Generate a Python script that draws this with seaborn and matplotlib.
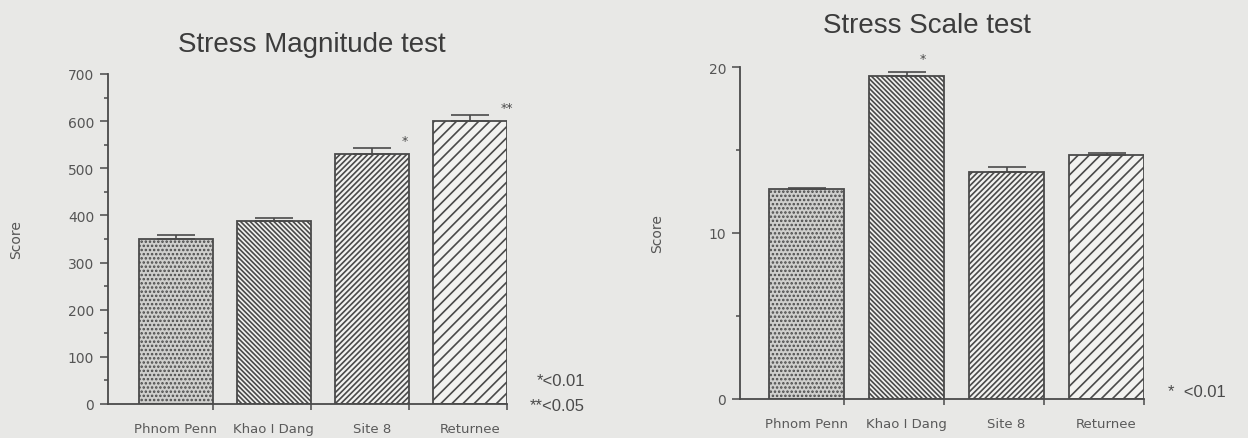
import numpy as np
import seaborn as sns
import matplotlib.pyplot as plt
from matplotlib.ticker import MultipleLocator, FixedLocator

# ==================================
# Data
# ==================================

sites = ["Phnom Penn", "Khao I Dang", "Site 8", "Returnee"]

magnitude = [351, 388, 530, 600]
magnitude_err = [8, 7, 14, 14]
magnitude_marks = ["", "", "*", "**"]

scale = [12.65, 19.45, 13.65, 14.7]
scale_err = [0.08, 0.25, 0.35, 0.1]
scale_marks = ["", "*", "", ""]

# ==================================
# Style
# ==================================

sns.set_style("ticks")
plt.rcParams["font.family"] = ["DejaVu Sans"]
plt.rcParams["hatch.linewidth"] = 1.2

paper = "#e8e8e6"
ink = "#4a4a4a"
hatches = ["....", "\\\\\\\\\\\\\\", "//////", "///"]
fills = ["#cfcfcd", "#f2f2f0", "#f2f2f0", "#f2f2f0"]

W, H = 1248, 439
fig = plt.figure(figsize=(W / 100, H / 100), dpi=100, facecolor=paper)


def box(x0, y0, x1, y1):
    # pixel box -> figure fraction [left, bottom, width, height]
    return [x0 / W, 1 - y1 / H, (x1 - x0) / W, (y1 - y0) / H]


def panel(ax, values, errs, marks, mark_dx, mark_dy, ymax, major, minor,
          xleft, title, title_xy):
    sns.barplot(x=sites, y=values, ax=ax, width=0.75, color="white",
                edgecolor=ink, linewidth=1.3, zorder=2)
    for patch, h, f in zip(ax.patches, hatches, fills):
        patch.set_hatch(h)
        patch.set_facecolor(f)

    ax.errorbar(np.arange(4), values, yerr=[np.zeros(4), errs], fmt="none",
                ecolor=ink, elinewidth=1.2, capsize=14, capthick=1.2, zorder=3)

    for i, m in enumerate(marks):
        if m:
            ax.text(i + mark_dx[i], values[i] + errs[i] + mark_dy, m,
                    ha="center", va="center", fontsize=9, color=ink,
                    clip_on=False)

    ax.set_facecolor("none")
    ax.set_xlim(xleft, 3.375)
    ax.set_ylim(0, ymax)
    ax.yaxis.set_major_locator(MultipleLocator(major))
    ax.yaxis.set_minor_locator(MultipleLocator(minor))
    ax.xaxis.set_minor_locator(FixedLocator(np.arange(4) + 0.375))
    ax.tick_params(axis="x", which="major", length=0, pad=13,
                   labelsize=9.5, labelcolor="#5a5a5a")
    ax.tick_params(axis="x", which="minor", length=4, width=1.1, color=ink)
    ax.tick_params(axis="y", which="major", length=6, width=1.1, color=ink,
                   labelsize=10, labelcolor="#555555", pad=4)
    ax.tick_params(axis="y", which="minor", length=3, width=1.1, color=ink)

    sns.despine(ax=ax)
    for s in ["left", "bottom"]:
        ax.spines[s].set_color(ink)
        ax.spines[s].set_linewidth(1.3)

    ax.set_xlabel("")
    ax.set_ylabel("Score", fontsize=10, color="#555555", labelpad=32)

    fig.text(title_xy[0] / W, 1 - title_xy[1] / H, title, ha="center",
             va="baseline", fontsize=20, color="#3c3c3c",
             family="Liberation Sans")


# ==================================
# Stress Magnitude test
# ==================================

ax1 = fig.add_axes(box(108, 75, 507, 405))
panel(ax1, magnitude, magnitude_err, magnitude_marks,
      [0, 0, 0.33, 0.37], 14, 700, 100, 50, -0.69,
      "Stress Magnitude test", (312, 52))

fig.text(537 / W, 1 - 386 / H, "*<0.01", fontsize=12, color=ink,
         family="Liberation Sans")
fig.text(530 / W, 1 - 411 / H, "**<0.05", fontsize=12, color=ink,
         family="Liberation Sans")

# ==================================
# Stress Scale test
# ==================================

ax2 = fig.add_axes(box(740, 68, 1144, 400))
panel(ax2, scale, scale_err, scale_marks,
      [0, 0.16, 0, 0], 0.8, 20, 10, 5, -0.665,
      "Stress Scale test", (927, 33))

fig.text(1168 / W, 1 - 397 / H, "*  <0.01", fontsize=12, color=ink,
         family="Liberation Sans")

plt.savefig("out.png", dpi=100, facecolor=paper)
